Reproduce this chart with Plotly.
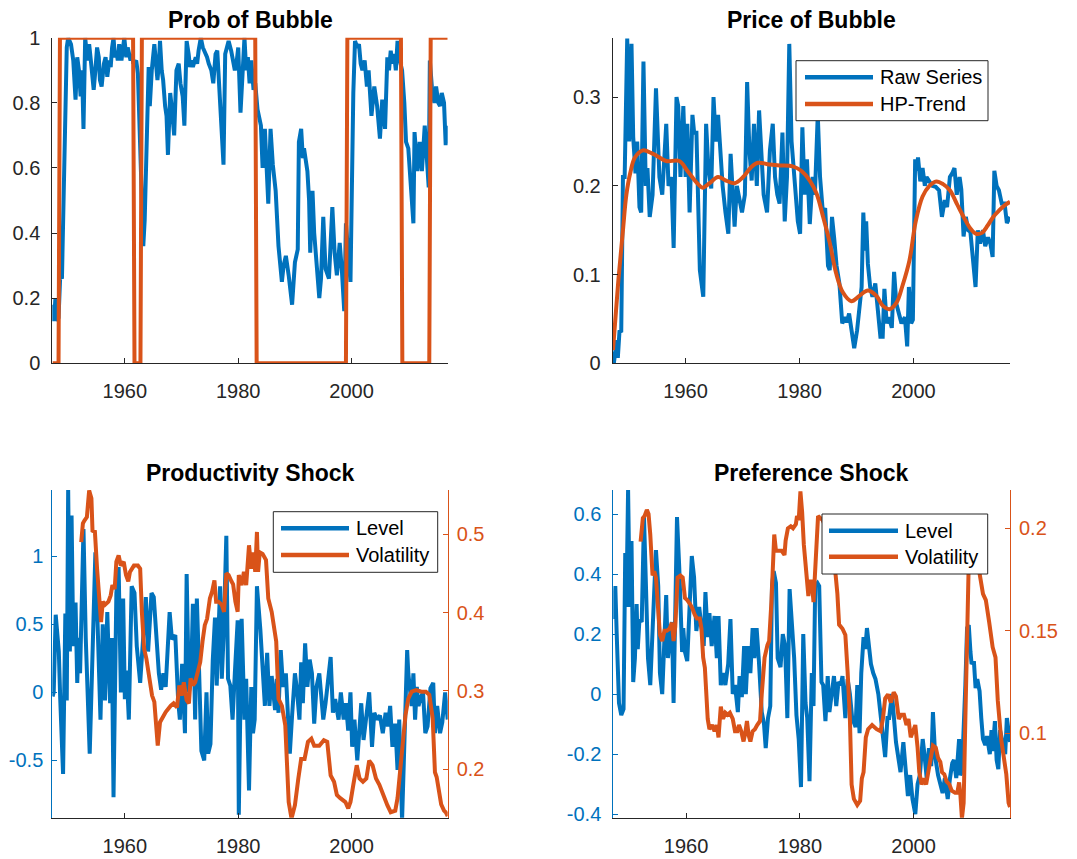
import plotly.graph_objects as go

# ---------------- data ----------------
prob_t = [1947.25,1947.5,1947.75,1948.0,1948.3,1948.6,1948.9,1949.3,1949.75,1950.0,1950.5,1950.9,1951.3,1951.6,1951.9,1952.2,1952.45,1952.7,1953.0,1953.4,1953.7,1954.0,1954.5,1954.8,1955.1,1955.4,1955.6,1955.9,1956.3,1956.6,1956.9,1957.25,1957.5,1957.75,1958.0,1958.25,1958.5,1958.75,1959.0,1959.4,1959.9,1960.25,1960.5,1961.0,1961.25,1961.5,1962.0,1962.3,1962.8,1963.25,1963.5,1963.9,1964.2,1964.4,1964.75,1965.2,1965.5,1965.75,1966.0,1966.2,1966.5,1966.75,1967.1,1967.35,1967.6,1968.0,1968.3,1968.7,1969.1,1969.5,1969.8,1970.2,1970.5,1970.9,1971.25,1971.5,1971.75,1972.0,1972.5,1972.75,1973.0,1973.4,1973.75,1974.0,1974.5,1974.8,1975.25,1975.6,1976.0,1976.3,1976.6,1976.9,1977.4,1977.7,1978.0,1978.3,1978.75,1979.0,1979.4,1979.75,1980.0,1980.4,1980.7,1981.1,1981.4,1981.7,1982.0,1982.3,1982.7,1983.0,1983.4,1984.0,1984.3,1984.7,1985.3,1985.7,1986.1,1986.6,1987.1,1987.7,1988.0,1988.4,1988.9,1989.5,1990.0,1990.5,1990.7,1991.1,1991.4,1991.6,1992.2,1992.5,1992.7,1993.1,1993.4,1993.7,1994.3,1994.6,1995.0,1995.4,1996.0,1996.6,1997.0,1997.4,1997.9,1998.3,1998.7,1999.0,1999.4,1999.8,2000.3,2000.6,2001.0,2001.3,2001.6,2001.9,2002.3,2002.7,2003.0,2003.5,2004.0,2004.5,2005.0,2005.4,2005.9,2006.3,2006.6,2006.9,2007.2,2007.5,2007.8,2008.1,2008.5,2008.9,2009.3,2009.6,2010.0,2010.4,2010.9,2011.1,2011.6,2012.0,2012.4,2012.9,2013.3,2013.6,2013.8,2014.2,2014.6,2014.9,2015.3,2015.6,2015.9,2016.3,2016.6,2016.95]
prob_v = [0.18,0.13,0.20,0.13,0.14,0.27,0.26,0.62,0.97,1.0,0.98,0.93,0.81,0.94,0.90,0.82,0.90,0.72,1.0,0.93,0.98,0.93,0.84,0.90,0.97,0.94,0.87,0.85,0.92,0.94,0.88,0.93,0.91,0.97,1.0,0.94,0.96,0.93,0.98,0.93,1.0,0.94,0.97,0.93,0.95,0.92,0.93,0.89,0.61,0.36,0.44,0.79,0.91,0.79,0.90,0.98,0.90,0.87,0.92,0.99,0.90,0.87,0.79,0.76,0.64,0.83,0.78,0.70,0.90,0.92,0.86,0.82,0.73,0.99,0.95,0.91,0.93,0.91,0.94,0.92,0.96,1.0,0.97,0.96,0.94,0.92,0.90,0.86,0.95,0.96,0.87,0.74,0.61,0.95,0.97,0.99,0.96,0.93,0.90,0.93,0.97,0.77,0.89,1.0,0.90,0.94,0.86,0.93,0.84,0.86,0.78,0.73,0.60,0.72,0.49,0.72,0.61,0.53,0.36,0.25,0.30,0.33,0.27,0.18,0.31,0.35,0.68,0.72,0.63,0.66,0.59,0.50,0.34,0.53,0.40,0.32,0.20,0.26,0.45,0.29,0.26,0.48,0.34,0.27,0.37,0.28,0.16,0.43,0.35,0.25,0.83,0.99,0.97,0.98,0.92,0.90,0.93,0.85,0.90,0.76,0.85,0.79,0.69,0.81,0.72,0.94,0.90,0.96,0.92,0.95,0.90,0.99,0.93,0.90,0.80,0.68,0.66,0.56,0.43,0.71,0.59,0.68,0.59,0.73,0.60,0.54,0.93,0.84,0.80,0.85,0.80,0.79,0.83,0.80,0.67,0.73]

regime_t = [1947.25,1948.3,1948.55,1961.45,1961.7,1962.75,1963.0,1983.0,1983.25,1999.0,1999.25,2008.7,2008.95,2013.7,2013.95,2016.95]
regime_v = [0,0,1,1,0,0,1,1,0,0,1,1,0,0,1,1]

price_t = [1947.25,1947.4,1947.6,1947.9,1948.1,1948.4,1948.7,1949.0,1949.3,1949.75,1950.1,1950.5,1950.8,1951.2,1951.5,1951.9,1952.2,1952.6,1953.0,1953.3,1953.7,1954.2,1954.8,1955.4,1955.9,1956.2,1956.6,1957.0,1957.5,1957.9,1958.4,1958.7,1959.1,1959.6,1960.0,1960.3,1960.7,1961.2,1961.5,1961.9,1962.5,1963.1,1963.6,1964.0,1964.5,1964.9,1965.3,1965.7,1966.1,1966.5,1967.0,1967.5,1967.9,1968.2,1968.6,1969.0,1969.5,1969.9,1970.4,1970.8,1971.2,1971.6,1972.0,1972.5,1972.9,1973.3,1973.7,1974.3,1974.8,1975.3,1975.7,1976.1,1976.5,1977.0,1977.4,1977.8,1978.2,1978.6,1979.1,1979.7,1980.1,1980.5,1980.9,1981.3,1981.8,1982.3,1982.7,1983.2,1983.6,1984.1,1984.5,1985.0,1985.3,1985.7,1986.1,1986.5,1987.0,1987.5,1988.0,1988.3,1988.7,1989.1,1989.6,1990.1,1990.5,1990.9,1991.2,1991.5,1991.7,1992.0,1992.4,1992.8,1993.3,1993.8,1994.2,1994.6,1994.9,1995.3,1995.7,1996.2,1996.6,1997.0,1997.5,1997.9,1998.5,1998.9,1999.2,1999.6,1999.9,2000.3,2000.6,2000.8,2001.2,2001.6,2002.0,2002.3,2002.7,2003.3,2003.9,2004.5,2005.0,2005.5,2005.9,2006.4,2006.8,2007.2,2007.6,2008.1,2008.4,2008.8,2009.2,2009.6,2010.0,2010.5,2010.9,2011.3,2011.7,2012.2,2012.6,2013.1,2013.5,2013.9,2014.2,2014.6,2015.0,2015.5,2016.0,2016.4,2016.95]
price_v = [0.013,0.0,0.01,0.026,0.006,0.037,0.035,0.21,0.21,0.366,0.25,0.36,0.255,0.214,0.25,0.176,0.17,0.34,0.20,0.22,0.165,0.19,0.31,0.21,0.19,0.22,0.27,0.20,0.21,0.13,0.30,0.29,0.21,0.29,0.21,0.27,0.17,0.28,0.26,0.26,0.105,0.075,0.27,0.22,0.197,0.30,0.25,0.28,0.23,0.20,0.17,0.146,0.236,0.20,0.154,0.20,0.18,0.17,0.19,0.317,0.24,0.206,0.27,0.20,0.285,0.23,0.19,0.17,0.24,0.27,0.21,0.19,0.18,0.26,0.16,0.21,0.36,0.25,0.21,0.16,0.146,0.266,0.19,0.23,0.157,0.21,0.19,0.28,0.21,0.17,0.175,0.11,0.105,0.165,0.14,0.11,0.09,0.045,0.052,0.046,0.056,0.04,0.017,0.037,0.064,0.086,0.17,0.127,0.16,0.112,0.086,0.075,0.09,0.056,0.03,0.03,0.084,0.045,0.052,0.04,0.103,0.067,0.052,0.045,0.052,0.019,0.086,0.045,0.049,0.23,0.217,0.232,0.205,0.22,0.20,0.21,0.206,0.20,0.199,0.195,0.165,0.184,0.176,0.21,0.214,0.22,0.19,0.21,0.196,0.143,0.165,0.15,0.148,0.112,0.086,0.15,0.135,0.15,0.132,0.142,0.135,0.12,0.217,0.20,0.195,0.18,0.18,0.158,0.165]

hp_t = [1947.25,1948.2,1949.0,1949.6,1950.3,1951.1,1952.5,1954.0,1954.9,1956.6,1958.9,1960.3,1961.9,1963.0,1964.2,1965.7,1967.1,1968.6,1970.1,1971.5,1972.7,1974.7,1976.5,1978.8,1980.3,1981.8,1983.0,1984.1,1985.3,1986.4,1987.6,1989.1,1990.5,1992.0,1993.5,1994.6,1995.8,1997.0,1998.1,1999.3,2000.4,2001.6,2002.8,2004.0,2005.2,2006.4,2007.6,2008.8,2010.0,2011.0,2012.0,2013.0,2014.0,2015.0,2016.0,2016.95]
hp_v = [0.015,0.094,0.15,0.19,0.215,0.232,0.24,0.237,0.234,0.228,0.228,0.217,0.204,0.198,0.203,0.21,0.206,0.203,0.21,0.221,0.226,0.224,0.223,0.222,0.217,0.206,0.191,0.166,0.136,0.102,0.08,0.07,0.076,0.082,0.076,0.065,0.061,0.068,0.088,0.116,0.16,0.188,0.2,0.205,0.202,0.195,0.18,0.165,0.152,0.146,0.147,0.155,0.165,0.172,0.178,0.182]

prodlev_t = [1947.25,1947.45,1947.8,1948.1,1948.35,1948.6,1949.1,1949.5,1949.75,1950.0,1950.3,1950.6,1950.9,1951.3,1951.6,1951.85,1952.1,1952.7,1953.1,1953.8,1954.4,1954.8,1955.2,1955.7,1956.1,1956.5,1956.9,1957.4,1957.7,1958.0,1958.5,1958.9,1959.3,1959.7,1960.0,1960.3,1960.7,1961.2,1961.7,1962.1,1962.7,1963.2,1963.7,1964.1,1964.7,1965.1,1965.5,1966.0,1966.4,1966.8,1967.2,1967.9,1968.3,1968.9,1969.4,1969.7,1970.1,1970.6,1970.9,1971.3,1971.7,1972.0,1972.4,1972.7,1973.1,1973.5,1974.0,1974.4,1974.7,1975.1,1975.5,1975.9,1976.2,1976.8,1977.1,1977.4,1977.9,1978.2,1978.6,1979.0,1979.4,1979.9,1980.1,1980.6,1980.9,1981.1,1981.4,1981.9,1982.3,1982.6,1982.9,1983.3,1983.9,1984.3,1984.7,1985.1,1985.5,1985.9,1986.5,1986.8,1987.1,1987.5,1987.9,1988.4,1988.9,1989.1,1989.5,1990.0,1990.3,1990.8,1991.1,1991.4,1991.8,1992.2,1992.6,1993.0,1993.4,1993.8,1994.3,1994.7,1995.0,1995.4,1995.7,1996.3,1996.7,1997.1,1997.7,1998.1,1998.6,1999.0,1999.4,1999.8,2000.1,2000.5,2001.0,2001.4,2001.7,2002.1,2002.6,2003.1,2003.6,2004.0,2004.5,2005.0,2005.5,2006.0,2006.4,2006.8,2007.2,2007.7,2008.1,2008.4,2008.9,2009.3,2009.8,2010.0,2010.3,2010.6,2010.9,2011.2,2011.5,2011.8,2012.1,2012.6,2013.0,2013.4,2013.9,2014.4,2014.7,2015.1,2015.6,2016.0,2016.5,2016.95]
prodlev_v = [-0.03,0.0,0.57,0.36,0.30,-0.05,-0.60,0.58,-0.06,1.49,0.30,1.30,0.34,0.66,0.07,0.40,0.14,1.20,0.40,-0.45,0.46,1.03,0.49,-0.20,0.50,-0.06,0.59,-0.08,0.40,-0.77,0.73,0.92,0.0,0.69,-0.05,0.16,-0.20,0.78,0.73,0.34,0.07,0.45,0.70,0.30,0.73,0.70,0.45,0.14,0.02,0.14,0.04,0.59,0.39,0.42,-0.06,-0.20,0.21,-0.30,0.87,0.0,0.14,0.65,-0.20,0.69,0.15,-0.43,-0.50,0.0,-0.45,-0.38,0.23,0.55,0.05,0.78,0.10,0.40,1.15,0.10,0.05,-0.20,0.14,0.53,-0.90,0.54,0.10,-0.20,0.10,-0.72,0.04,-0.30,-0.20,0.78,0.46,0.14,-0.10,0.29,-0.10,0.12,-0.13,0.10,-0.15,0.31,0.04,0.14,-0.20,-0.45,-0.17,0.14,0.04,-0.20,0.22,-0.08,0.36,0.04,0.24,0.14,-0.23,0.04,0.14,-0.10,-0.20,-0.08,0.04,0.26,-0.15,-0.05,-0.20,0.0,-0.20,-0.08,-0.28,0.0,-0.40,-0.20,-0.50,-0.20,-0.08,-0.35,-0.17,0.0,-0.40,-0.15,-0.20,-0.17,-0.30,-0.15,-0.25,-0.10,-0.40,-0.23,-0.57,-0.20,-0.94,-0.35,0.31,0.14,0.04,-0.10,0.14,-0.20,0.04,-0.10,-0.05,0.0,-0.30,-0.25,0.03,0.07,-0.30,-0.10,-0.30,-0.22,0.0,-0.20]

prodvol_t = [1952.3,1952.6,1952.9,1953.3,1953.7,1954.1,1954.3,1954.7,1955.1,1955.5,1955.8,1956.1,1956.5,1957.1,1957.5,1957.8,1958.2,1958.5,1958.9,1959.3,1959.8,1960.2,1960.6,1960.9,1961.6,1962.3,1962.7,1963.0,1963.4,1963.8,1964.4,1964.8,1965.2,1965.6,1965.8,1966.2,1966.6,1967.2,1968.1,1968.6,1969.2,1969.6,1970.0,1970.4,1970.9,1971.3,1971.6,1972.0,1972.4,1972.8,1973.3,1973.7,1974.1,1974.5,1975.0,1975.4,1975.8,1976.1,1976.5,1977.1,1977.5,1977.9,1978.3,1978.8,1979.1,1979.5,1979.9,1980.1,1980.6,1981.0,1981.4,1981.9,1982.3,1982.7,1983.0,1983.3,1983.5,1983.8,1984.3,1984.9,1985.3,1985.9,1986.5,1986.7,1987.1,1987.7,1988.3,1988.9,1989.4,1990.0,1990.6,1991.1,1991.7,1992.3,1992.9,1993.4,1994.3,1995.1,1995.7,1996.3,1996.9,1997.4,1998.0,1998.9,1999.4,1999.8,2000.3,2000.9,2001.4,2002.0,2002.6,2003.1,2003.7,2004.3,2004.9,2005.7,2006.3,2006.9,2007.7,2008.1,2008.6,2009.1,2009.5,2010.0,2010.6,2011.4,2012.3,2013.1,2013.7,2014.3,2014.7,2015.0,2015.4,2015.8,2016.3,2016.6,2016.95]
prodvol_v = [0.49,0.514,0.518,0.522,0.556,0.546,0.503,0.505,0.456,0.414,0.388,0.414,0.41,0.414,0.422,0.435,0.43,0.465,0.473,0.46,0.465,0.448,0.44,0.452,0.46,0.46,0.456,0.401,0.354,0.341,0.307,0.294,0.286,0.256,0.23,0.26,0.265,0.273,0.281,0.284,0.279,0.307,0.294,0.311,0.288,0.284,0.316,0.307,0.311,0.324,0.337,0.363,0.384,0.392,0.418,0.427,0.441,0.414,0.414,0.41,0.401,0.45,0.448,0.44,0.436,0.414,0.401,0.448,0.435,0.452,0.435,0.486,0.456,0.477,0.452,0.503,0.452,0.477,0.475,0.467,0.418,0.401,0.375,0.363,0.29,0.281,0.256,0.158,0.137,0.154,0.188,0.213,0.213,0.235,0.239,0.23,0.23,0.237,0.235,0.192,0.184,0.167,0.163,0.158,0.15,0.158,0.18,0.205,0.188,0.184,0.188,0.211,0.205,0.188,0.18,0.163,0.154,0.145,0.147,0.163,0.2,0.23,0.269,0.29,0.299,0.301,0.299,0.299,0.295,0.265,0.196,0.19,0.17,0.155,0.147,0.145,0.14]

preflev_t = [1947.25,1947.4,1947.55,1947.8,1948.2,1948.6,1949.0,1949.3,1949.5,1949.8,1950.1,1950.4,1950.7,1951.0,1951.3,1951.5,1951.8,1952.2,1952.6,1953.0,1953.3,1953.7,1954.1,1954.7,1955.1,1955.4,1955.8,1956.1,1956.5,1956.8,1957.3,1957.5,1957.8,1958.1,1958.4,1958.8,1959.3,1959.5,1959.8,1960.2,1960.6,1961.0,1961.4,1961.8,1962.3,1962.7,1963.1,1963.4,1963.8,1964.1,1964.5,1965.0,1965.4,1965.7,1966.1,1966.5,1966.9,1967.4,1967.8,1968.2,1968.6,1969.1,1969.4,1969.8,1970.2,1970.5,1970.9,1971.3,1971.7,1972.0,1972.4,1972.8,1973.3,1973.7,1974.0,1974.4,1974.8,1975.1,1975.4,1975.8,1976.1,1976.6,1977.0,1977.4,1977.8,1978.2,1978.6,1979.0,1979.4,1979.8,1980.2,1980.6,1981.0,1981.3,1981.7,1982.1,1982.4,1982.7,1983.1,1983.4,1983.8,1984.1,1984.5,1984.9,1985.2,1985.7,1986.0,1986.4,1986.8,1987.2,1987.5,1988.0,1988.4,1988.8,1989.2,1989.8,1990.1,1990.5,1990.8,1991.2,1991.5,1991.8,1992.2,1992.5,1992.9,1993.3,1993.8,1994.2,1994.6,1995.0,1995.4,1995.7,1996.2,1996.6,1996.9,1997.3,1997.7,1998.2,1998.6,1999.0,1999.4,1999.8,2000.3,2000.7,2001.1,2001.6,2001.9,2002.3,2002.7,2003.1,2003.4,2003.8,2004.3,2004.7,2005.1,2005.5,2006.0,2006.4,2006.8,2007.1,2007.5,2008.0,2008.2,2008.5,2008.8,2009.1,2009.4,2009.7,2010.0,2010.2,2010.6,2010.9,2011.2,2011.6,2011.9,2012.2,2012.6,2012.9,2013.4,2013.7,2013.9,2014.3,2014.6,2014.9,2015.2,2015.6,2016.1,2016.4,2016.95]
preflev_v = [0.25,0.30,0.36,0.20,-0.03,-0.07,-0.05,0.47,0.29,0.68,0.29,0.51,0.04,0.12,0.30,0.15,0.25,0.24,0.59,0.32,0.12,0.03,0.23,0.48,0.36,0.07,0.0,0.17,0.33,0.12,0.19,0.24,-0.03,0.27,0.59,0.42,0.14,0.22,0.14,0.11,0.27,0.46,0.39,0.21,0.29,0.21,0.16,0.34,0.19,0.27,0.16,0.26,0.12,0.26,0.03,0.07,0.03,0.10,0.25,0.0,0.03,-0.06,0.06,-0.01,0.16,0.0,0.16,0.07,0.22,0.12,0.22,0.11,-0.06,-0.10,-0.18,-0.08,-0.04,0.36,0.41,0.37,0.12,0.09,0.20,0.16,-0.08,0.35,0.23,0.12,-0.07,-0.15,-0.31,0.20,-0.03,-0.08,-0.29,0.07,-0.04,0.36,0.37,0.36,0.04,0.03,-0.09,0.06,-0.06,0.03,0.06,-0.04,0.04,0.03,0.06,-0.08,0.05,0.0,-0.08,-0.11,0.03,-0.13,0.07,0.19,0.15,0.22,0.13,0.10,0.07,0.05,0.0,-0.07,-0.13,-0.21,-0.08,-0.08,0.0,-0.10,-0.16,-0.21,-0.26,-0.16,-0.27,-0.34,-0.27,-0.35,-0.40,-0.30,-0.27,-0.15,-0.20,-0.28,-0.18,-0.24,-0.06,-0.21,-0.27,-0.30,-0.33,-0.28,-0.35,-0.28,-0.23,-0.22,-0.28,-0.15,-0.27,-0.26,-0.14,0.03,0.22,0.23,0.14,0.10,0.11,0.02,0.05,0.01,-0.08,-0.15,-0.17,-0.14,-0.20,-0.12,-0.19,-0.09,-0.22,-0.25,-0.12,-0.16,-0.20,-0.08,-0.16]

prefvol_t = [1952.0,1952.4,1952.7,1953.1,1953.4,1953.7,1954.1,1954.4,1954.7,1955.1,1955.4,1955.8,1956.2,1956.6,1957.1,1957.5,1957.8,1958.1,1958.5,1959.0,1959.4,1959.8,1960.2,1960.7,1961.1,1961.5,1961.9,1962.4,1962.7,1963.0,1963.3,1963.5,1963.8,1964.1,1964.6,1965.0,1965.4,1965.7,1966.1,1966.5,1966.9,1967.3,1967.7,1968.2,1968.6,1969.0,1969.3,1969.7,1970.1,1970.4,1970.7,1971.0,1971.3,1971.7,1972.1,1972.5,1973.0,1973.3,1973.5,1973.8,1974.3,1974.6,1975.0,1975.3,1975.5,1975.8,1976.4,1976.8,1977.3,1977.5,1977.9,1978.4,1978.8,1979.3,1979.5,1979.8,1980.1,1980.4,1980.7,1981.0,1981.25,1981.5,1981.8,1982.1,1982.4,1982.7,1983.0,1983.2,1984.0,1985.0,1985.8,1986.3,1986.6,1986.9,1987.5,1988.0,1988.4,1988.8,1989.1,1989.5,1990.1,1990.6,1990.9,1991.2,1991.6,1992.0,1992.7,1993.5,1994.2,1994.6,1995.0,1995.5,1996.0,1996.5,1996.9,1997.4,1997.8,1998.3,1998.75,1999.1,1999.5,1999.9,2000.3,2000.7,2001.0,2001.4,2001.8,2002.2,2002.6,2003.0,2003.4,2003.9,2004.3,2004.7,2005.0,2005.4,2005.8,2006.3,2006.7,2007.3,2007.7,2008.0,2008.2,2008.5,2008.8,2009.1,2009.4,2009.7,2010.0,2010.6,2011.2,2011.6,2012.2,2012.7,2013.3,2013.9,2014.4,2014.8,2015.4,2016.0,2016.3,2016.7,2016.95]
prefvol_v = [0.1935,0.205,0.206,0.209,0.207,0.197,0.177,0.179,0.176,0.159,0.148,0.145,0.15,0.15,0.151,0.154,0.145,0.152,0.176,0.177,0.176,0.166,0.165,0.163,0.161,0.158,0.156,0.156,0.151,0.137,0.132,0.122,0.107,0.102,0.104,0.101,0.104,0.098,0.113,0.107,0.11,0.109,0.11,0.107,0.101,0.101,0.104,0.101,0.096,0.1,0.106,0.099,0.096,0.101,0.102,0.104,0.106,0.119,0.13,0.137,0.143,0.145,0.164,0.179,0.197,0.189,0.189,0.189,0.187,0.194,0.2,0.201,0.2,0.202,0.206,0.204,0.218,0.208,0.192,0.182,0.172,0.167,0.174,0.174,0.164,0.182,0.2,0.206,0.204,0.198,0.186,0.177,0.168,0.153,0.151,0.148,0.13,0.107,0.075,0.068,0.065,0.067,0.078,0.081,0.098,0.102,0.104,0.102,0.101,0.107,0.117,0.119,0.115,0.12,0.118,0.107,0.109,0.109,0.104,0.107,0.098,0.101,0.104,0.093,0.081,0.075,0.078,0.075,0.081,0.088,0.094,0.093,0.088,0.086,0.081,0.08,0.0765,0.075,0.072,0.071,0.071,0.076,0.071,0.0585,0.066,0.107,0.156,0.184,0.195,0.2,0.19,0.178,0.168,0.165,0.154,0.142,0.137,0.116,0.097,0.087,0.08,0.066,0.064]

titles = ["Prob of Bubble", "Price of Bubble", "Productivity Shock", "Preference Shock"]
year_ticks = [1960, 1980, 2000]

# ---------------- styling ----------------
W, H = 1077, 859
OFF = 8          # the page body adds an 8px margin; positions below are page pixels
BLUE = "#0072BD"
ORANGE = "#D95319"
AXC = "#262626"
FONT = "Arial, 'Liberation Sans', Helvetica, sans-serif"
LW = 4
FS = 20

def fx(p):
    return (p - OFF) / W

def fy(p):
    return 1 - (p - OFF) / H

XR = [1947.2, 2016.95]

fig = go.Figure()
fig.add_trace(go.Scatter(x=prob_t, y=prob_v, mode="lines", line=dict(color=BLUE, width=LW), xaxis="x", yaxis="y", showlegend=False))
fig.add_trace(go.Scatter(x=regime_t, y=regime_v, mode="lines", line=dict(color=ORANGE, width=LW), xaxis="x", yaxis="y", showlegend=False))
fig.add_trace(go.Scatter(x=price_t, y=price_v, mode="lines", name="Raw Series", line=dict(color=BLUE, width=LW), xaxis="x2", yaxis="y2", showlegend=False))
fig.add_trace(go.Scatter(x=hp_t, y=hp_v, mode="lines", name="HP-Trend", line=dict(color=ORANGE, width=LW, shape="spline", smoothing=1.0), xaxis="x2", yaxis="y2", showlegend=False))
fig.add_trace(go.Scatter(x=prodlev_t, y=prodlev_v, mode="lines", name="Level", line=dict(color=BLUE, width=LW), xaxis="x3", yaxis="y3", showlegend=False))
fig.add_trace(go.Scatter(x=preflev_t, y=preflev_v, mode="lines", name="Level", line=dict(color=BLUE, width=LW), xaxis="x4", yaxis="y4", showlegend=False))
fig.add_trace(go.Scatter(x=prodvol_t, y=prodvol_v, mode="lines", name="Volatility", line=dict(color=ORANGE, width=LW), xaxis="x3", yaxis="y5", showlegend=False))
fig.add_trace(go.Scatter(x=prefvol_t, y=prefvol_v, mode="lines", name="Volatility", line=dict(color=ORANGE, width=LW), xaxis="x4", yaxis="y6", showlegend=False))

tickfont = dict(family=FONT, size=FS, color=AXC)

def xax(l, r, anchor):
    return dict(domain=[fx(l), fx(r)], anchor=anchor, range=XR, tickvals=year_ticks,
                ticks="inside", ticklen=5, tickcolor=AXC, showline=True, linecolor=AXC,
                linewidth=1, showgrid=False, zeroline=False, tickfont=tickfont,
                ticklabelstandoff=10, automargin=False)

def yax(t, b, anchor, rng, vals, texts, color, side="left", overlay=None, standoff=7):
    d = dict(anchor=anchor, range=rng, tickvals=vals, ticktext=texts, side=side,
             ticks="inside", ticklen=5, tickcolor=color, showline=True, linecolor=color,
             linewidth=1, showgrid=False, zeroline=False, automargin=False,
             tickfont=dict(family=FONT, size=FS, color=color),
             ticklabelstandoff=standoff)
    if overlay:
        d["overlaying"] = overlay
    else:
        d["domain"] = [fy(b), fy(t)]
    return d

TOP = (37.7, 363.3)
BOT = (490.0, 817.7)
fig.update_layout(
    template="none",
    width=W, height=H, margin=dict(l=0, r=0, t=0, b=0, pad=0), autosize=False,
    paper_bgcolor="white", plot_bgcolor="white", showlegend=False,
    xaxis=xax(52.3, 447.7, "y"),
    xaxis2=xax(612.7, 1010, "y2"),
    xaxis3=xax(52.3, 447.7, "y3"),
    xaxis4=xax(613.3, 1010, "y4"),
    yaxis=yax(TOP[0], TOP[1], "x", [0, 1], [0, 0.2, 0.4, 0.6, 0.8, 1], ["0", "0.2", "0.4", "0.6", "0.8", "1"], AXC),
    yaxis2=yax(TOP[0], TOP[1], "x2", [0, 0.367], [0, 0.1, 0.2, 0.3], ["0", "0.1", "0.2", "0.3"], AXC),
    yaxis3=yax(BOT[0], BOT[1], "x3", [-0.921, 1.487], [-0.5, 0, 0.5, 1], ["-0.5", "0", "0.5", "1"], BLUE, standoff=4),
    yaxis4=yax(BOT[0], BOT[1], "x4", [-0.412, 0.68], [-0.4, -0.2, 0, 0.2, 0.4, 0.6], ["-0.4", "-0.2", "0", "0.2", "0.4", "0.6"], BLUE),
    yaxis5=yax(BOT[0], BOT[1], "x3", [0.138, 0.5566], [0.2, 0.3, 0.4, 0.5], ["0.2", "0.3", "0.4", "0.5"], ORANGE, side="right", overlay="y3", standoff=4),
    yaxis6=yax(BOT[0], BOT[1], "x4", [0.0588, 0.2187], [0.1, 0.15, 0.2], ["0.1", "0.15", "0.2"], ORANGE, side="right", overlay="y4", standoff=4),
)

# titles
title_pos = [(250, 20), (811, 20), (250, 473), (811, 473)]
for txt, (cx, cy) in zip(titles, title_pos):
    fig.add_annotation(text="<b>%s</b>" % txt, x=fx(cx), y=fy(cy), xref="paper", yref="paper",
                       showarrow=False, xanchor="center", yanchor="middle",
                       font=dict(family=FONT, size=23, color="black"))

# legends (box, line samples, labels)
legends = [
    ((796, 60.7, 988, 120.7), [("Raw Series", BLUE, 77.3), ("HP-Trend", ORANGE, 104.0)], (805, 873, 878)),
    ((273.3, 511.7, 437.7, 572.3), [("Level", BLUE, 528.3), ("Volatility", ORANGE, 555.0)], (281, 349, 354)),
    ((822, 514, 987.7, 574), [("Level", BLUE, 530.7), ("Volatility", ORANGE, 556.7)], (829, 898, 903)),
]
for (x0, y0, x1, y1), items, (lx0, lx1, tx) in legends:
    fig.add_shape(type="rect", xref="paper", yref="paper", x0=fx(x0), x1=fx(x1), y0=fy(y1), y1=fy(y0),
                  fillcolor="white", line=dict(color=AXC, width=1), layer="above")
    for name, col, yy in items:
        fig.add_shape(type="line", xref="paper", yref="paper", x0=fx(lx0), x1=fx(lx1), y0=fy(yy), y1=fy(yy),
                      line=dict(color=col, width=4.5), layer="above")
        fig.add_annotation(text=name, x=fx(tx), y=fy(yy), xref="paper", yref="paper", showarrow=False,
                           xanchor="left", yanchor="middle", font=dict(family=FONT, size=FS, color="black"))

fig.write_html("out.html")
